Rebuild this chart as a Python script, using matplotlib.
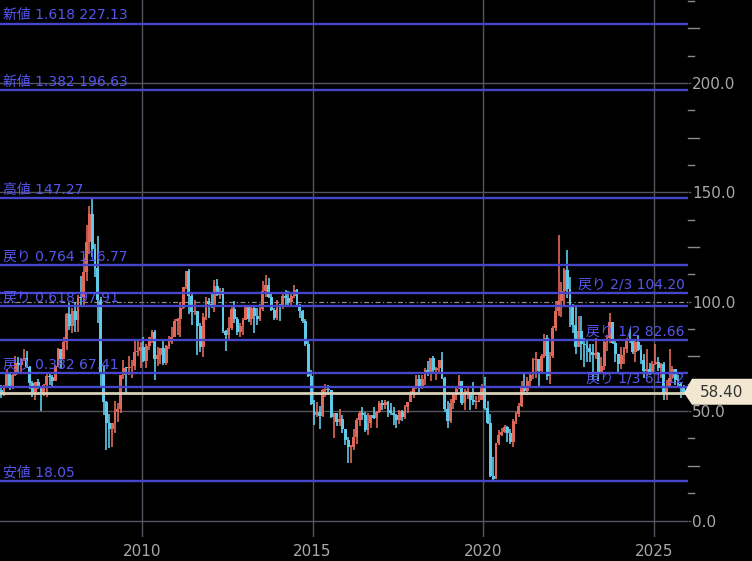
import matplotlib
matplotlib.use('Agg')
import matplotlib.pyplot as plt
import numpy as np
from matplotlib.patches import Polygon
from matplotlib.transforms import blended_transform_factory

plt.rcParams['font.family'] = ['DejaVu Sans', 'Noto Sans CJK JP']

# ---------------- data (monthly candles, first = Nov 2005) ----------------
start_year, start_month = 2005, 11

opens = [
    59.8, 57.3,
    61.0, 67.9, 61.4, 66.6, 71.9, 71.3, 74.0, 74.4, 70.3, 62.9, 58.7, 63.1,
    61.1, 58.1, 61.8, 65.9, 65.7, 64.0, 70.7, 78.2, 74.0, 81.7, 94.5, 88.7,
    96.0, 91.8, 101.8, 101.6, 113.5, 127.4, 140.0, 124.1, 115.5, 100.6, 67.8, 54.4,
    44.6, 41.7, 44.8, 49.7, 51.1, 66.3, 69.9, 69.5, 70.0, 70.6, 77.0, 77.3,
    79.4, 72.9, 79.7, 83.8, 86.2, 74.0, 75.6, 78.9, 71.9, 80.0, 81.4, 84.1,
    91.4, 92.2, 97.0, 106.7, 113.9, 102.7, 95.4, 95.7, 88.8, 79.2, 93.2, 100.4,
    98.8, 98.5, 107.1, 103.0, 104.9, 86.5, 85.0, 88.1, 96.5, 92.2, 86.2, 88.9,
    91.8, 97.5, 92.1, 97.2, 93.5, 92.0, 96.6, 105.0, 107.7, 102.3, 96.4, 92.7,
    98.4, 97.5, 102.6, 101.6, 99.7, 102.7, 105.4, 98.2, 96.0, 91.2, 80.5, 66.2,
    53.3, 48.2, 49.8, 47.6, 59.6, 60.3, 59.5, 47.1, 49.2, 45.1, 46.6, 41.7,
    37.0, 33.6, 33.8, 38.3, 45.9, 49.1, 48.3, 41.6, 44.7, 48.2, 46.9, 49.4,
    53.7, 52.8, 54.0, 50.6, 49.3, 48.3, 46.0, 50.2, 47.2, 51.7, 54.4, 57.4,
    60.4, 64.7, 61.6, 64.9, 68.6, 67.0, 74.2, 68.8, 69.8, 73.3, 65.3, 50.9,
    45.4, 53.8, 57.2, 60.1, 63.9, 53.5, 58.5, 58.6, 55.1, 54.1, 54.2, 55.2,
    61.1, 51.6, 44.8, 20.5, 19.2, 35.5, 39.3, 40.3, 42.6, 40.2, 35.8, 45.3,
    48.5, 52.2, 61.5, 59.2, 63.6, 66.3, 73.5, 73.95, 68.5, 75.0, 83.6, 66.2,
    75.2, 88.2, 95.7, 100.3, 104.7, 114.7, 105.8, 98.6, 89.6, 79.5, 86.5, 80.6,
    80.3, 78.9, 77.1, 75.7, 76.8, 68.1, 70.6, 81.8, 83.6, 90.8, 81.0, 76.0,
    71.65, 75.85, 78.26, 83.17, 81.93, 76.99, 81.54, 77.91, 73.55, 68.17, 69.26, 68.0,
    71.72, 72.53, 69.76, 71.48, 58.21, 60.79, 65.11, 69.26, 64.01, 62.37, 60.98,
]

highs = [
    62.1, 61.9,
    69.2, 68.0, 67.4, 75.4, 74.9, 74.2, 78.4, 77.3, 70.8, 63.6, 63.2, 64.5,
    61.1, 62.3, 68.1, 67.0, 66.5, 70.9, 78.8, 78.3, 83.9, 94.8, 99.3, 97.0,
    100.1, 103.1, 111.8, 119.9, 135.1, 143.7, 147.27, 126.4, 130.0, 102.4, 71.2, 54.6,
    48.6, 43.0, 54.7, 53.9, 66.7, 73.4, 70.4, 75.0, 73.4, 82.0, 82.0, 81.4,
    83.9, 80.5, 83.8, 87.1, 87.2, 79.3, 79.0, 83.0, 80.1, 84.4, 88.6, 92.0,
    92.6, 99.8, 106.9, 113.9, 114.8, 103.4, 100.6, 95.9, 90.5, 94.7, 102.4, 101.8,
    103.7, 109.8, 110.6, 106.2, 106.4, 87.1, 92.9, 98.3, 100.4, 93.0, 90.3, 92.4,
    98.2, 98.2, 97.8, 97.8, 97.0, 99.2, 109.3, 112.2, 110.7, 104.4, 97.0, 100.8,
    98.8, 104.0, 105.2, 104.9, 104.5, 107.7, 105.8, 98.8, 96.4, 92.3, 82.2, 69.0,
    55.1, 54.2, 52.5, 59.9, 62.6, 61.8, 59.7, 49.3, 49.3, 50.9, 48.4, 42.0,
    38.4, 34.7, 41.9, 46.8, 50.2, 51.7, 49.4, 49.0, 48.4, 51.9, 49.9, 54.5,
    55.2, 54.9, 54.6, 53.8, 52.0, 48.9, 50.4, 50.4, 52.9, 54.4, 59.1, 60.5,
    66.7, 66.7, 66.6, 69.6, 72.9, 74.5, 75.3, 70.4, 73.4, 76.9, 65.4, 54.6,
    55.4, 57.8, 60.7, 66.6, 64.0, 59.9, 60.9, 58.8, 63.4, 56.9, 58.7, 62.3,
    65.7, 54.7, 48.7, 29.1, 35.6, 41.6, 42.5, 43.8, 43.4, 41.9, 46.3, 49.4,
    53.9, 63.8, 67.98, 65.5, 67.0, 74.5, 76.98, 74.0, 76.0, 85.4, 84.97, 76.9,
    88.8, 100.5, 130.5, 109.2, 115.5, 123.7, 111.1, 99.0, 97.7, 93.6, 93.7, 83.3,
    82.7, 80.6, 80.9, 83.5, 76.9, 74.8, 82.0, 84.9, 95.0, 90.8, 82.0, 76.2,
    79.3, 79.1, 83.3, 87.7, 82.2, 82.4, 84.5, 80.2, 76.0, 78.5, 72.0, 72.7,
    80.8, 74.8, 71.8, 72.3, 64.2, 78.4, 70.5, 69.4, 66.4, 63.0, 62.0,
]

lows = [
    56.0, 56.9,
    61.0, 59.5, 59.9, 66.1, 68.0, 68.1, 72.7, 69.8, 60.3, 56.5, 55.3, 60.0,
    49.9, 56.8, 56.6, 61.9, 60.6, 64.0, 70.3, 69.1, 73.9, 77.8, 87.0, 85.9,
    86.1, 86.1, 98.7, 98.7, 109.6, 122.0, 120.4, 111.3, 90.5, 61.3, 48.3, 32.4,
    33.2, 33.6, 40.2, 45.2, 49.0, 64.9, 58.3, 66.6, 65.1, 69.0, 75.2, 69.5,
    72.4, 69.5, 78.0, 81.0, 64.2, 70.7, 71.5, 71.0, 71.0, 78.6, 80.8, 84.0,
    84.9, 84.1, 96.8, 105.7, 94.6, 89.6, 94.0, 75.7, 77.1, 74.95, 91.7, 92.5,
    97.1, 95.4, 102.5, 101.3, 85.6, 77.3, 82.1, 87.3, 90.5, 84.7, 84.1, 84.6,
    91.7, 90.8, 89.3, 85.6, 89.5, 91.0, 95.9, 102.2, 101.6, 95.7, 91.8, 91.8,
    91.2, 96.7, 97.4, 98.0, 98.3, 101.6, 97.7, 92.5, 90.4, 79.8, 65.7, 52.7,
    43.6, 47.4, 42.0, 47.1, 56.5, 57.4, 47.0, 37.8, 43.2, 43.0, 39.9, 34.5,
    26.2, 26.1, 32.3, 35.2, 43.0, 45.8, 40.6, 39.2, 42.5, 46.2, 42.2, 49.3,
    50.7, 51.2, 47.1, 48.2, 43.8, 42.1, 44.1, 45.6, 46.5, 49.1, 54.2, 55.8,
    59.9, 58.1, 59.9, 62.0, 66.0, 63.6, 67.0, 64.4, 67.5, 64.9, 49.4, 42.4,
    44.4, 51.2, 55.0, 60.1, 53.0, 50.6, 55.4, 50.5, 52.8, 50.9, 54.0, 55.0,
    50.6, 44.0, 20.1, 18.05, 19.0, 34.4, 38.7, 40.1, 36.1, 34.9, 33.6, 44.2,
    47.2, 51.7, 57.3, 57.6, 61.6, 64.6, 65.0, 61.7, 67.6, 74.2, 64.4, 62.4,
    74.3, 86.6, 93.5, 92.9, 98.2, 101.5, 88.3, 85.7, 76.3, 79.3, 73.6, 70.1,
    72.5, 72.3, 64.1, 74.0, 63.6, 66.8, 69.0, 77.6, 81.2, 80.6, 72.4, 67.7,
    69.3, 71.4, 76.6, 81.2, 76.0, 72.5, 77.4, 71.5, 65.3, 66.0, 66.5, 67.0,
    71.0, 68.3, 65.2, 55.1, 55.3, 60.5, 64.7, 61.9, 61.5, 55.96, 57.2,
]

closes = [
    57.3, 61.0,
    67.9, 61.4, 66.6, 71.9, 71.3, 74.0, 74.4, 70.3, 62.9, 58.7, 63.1, 61.1,
    58.1, 61.8, 65.9, 65.7, 64.0, 70.7, 78.2, 74.0, 81.7, 94.5, 88.7, 96.0,
    91.8, 101.8, 101.6, 113.5, 127.4, 140.0, 124.1, 115.5, 100.6, 67.8, 54.4, 44.6,
    41.7, 44.8, 49.7, 51.1, 66.3, 69.9, 69.5, 70.0, 70.6, 77.0, 77.3, 79.4,
    72.9, 79.7, 83.8, 86.2, 74.0, 75.6, 78.9, 71.9, 80.0, 81.4, 84.1, 91.4,
    92.2, 97.0, 106.7, 113.9, 102.7, 95.4, 95.7, 88.8, 79.2, 93.2, 100.4, 98.8,
    98.5, 107.1, 103.0, 104.9, 86.5, 85.0, 88.1, 96.5, 92.2, 86.2, 88.9, 91.8,
    97.5, 92.1, 97.2, 93.5, 92.0, 96.6, 105.0, 107.7, 102.3, 96.4, 92.7, 98.4,
    97.5, 102.6, 101.6, 99.7, 102.7, 105.4, 98.2, 96.0, 91.2, 80.5, 66.2, 53.3,
    48.2, 49.8, 47.6, 59.6, 60.3, 59.5, 47.1, 49.2, 45.1, 46.6, 41.7, 37.0,
    33.6, 33.8, 38.3, 45.9, 49.1, 48.3, 41.6, 44.7, 48.2, 46.9, 49.4, 53.7,
    52.8, 54.0, 50.6, 49.3, 48.3, 46.0, 50.2, 47.2, 51.7, 54.4, 57.4, 60.4,
    64.7, 61.6, 64.9, 68.6, 67.0, 74.2, 68.8, 69.8, 73.3, 65.3, 50.9, 45.4,
    53.8, 57.2, 60.1, 63.9, 53.5, 58.5, 58.6, 55.1, 54.1, 54.2, 55.2, 61.1,
    51.6, 44.8, 20.5, 18.8, 35.5, 39.3, 40.3, 42.6, 40.2, 35.8, 45.3, 48.5,
    52.2, 61.5, 59.2, 63.6, 66.3, 73.5, 73.95, 68.5, 75.0, 83.6, 66.2, 75.2,
    88.2, 95.7, 100.3, 104.7, 114.7, 105.8, 98.6, 89.6, 79.5, 86.5, 80.6, 80.3,
    78.9, 77.1, 75.7, 76.8, 68.1, 70.6, 81.8, 83.6, 90.8, 81.0, 76.0, 71.65,
    75.85, 78.26, 83.17, 81.93, 76.99, 81.54, 77.91, 73.55, 68.17, 69.26, 68.0, 71.72,
    72.53, 69.76, 71.48, 58.21, 60.79, 65.11, 69.26, 64.01, 62.37, 60.98, 58.40,
]

fib_left_labels = ['新値 1.618 227.13', '新値 1.382 196.63', '高値 147.27',
                   '戻り 0.764 116.77', '戻り 0.618 97.91', '戻り 0.382 67.41',
                   '安値 18.05']
fib_left_values = [227.13, 196.63, 147.27, 116.77, 97.91, 67.41, 18.05]
fib_right_labels = ['戻り 2/3 104.20', '戻り 1/2 82.66', '戻り 1/3 61.12']
fib_right_values = [104.20, 82.66, 61.12]
last_price = 58.40
x_ticks = [2010, 2015, 2020, 2025]
y_ticks = [0, 50, 100, 150, 200]

# ---------------- styling ----------------
BG = '#000000'
UP = '#e0685a'
DOWN = '#60c9ea'
FIB_LINE = '#4646cc'
FIB_TEXT = '#5656ee'
GRID = '#55555f'
TICK_TXT = '#a8a8a8'

W, H = 752, 561
fig = plt.figure(figsize=(W / 100, H / 100), dpi=100, facecolor=BG)
ax = fig.add_axes([0, 24 / H, 688 / W, 537 / H])
ax.set_facecolor(BG)
ax.set_xlim(2005.84, 2026.0)
ax.set_ylim(-7.54, 237.94)
for s in ax.spines.values():
    s.set_visible(False)

# grid
for v in y_ticks:
    if v == 100:
        ax.axhline(v, color='#8a8a8a', lw=0.9, ls=(0, (1, 2, 4, 2)), zorder=1)
    else:
        ax.axhline(v, color=GRID, lw=1.0, zorder=1)
for v in x_ticks:
    ax.axvline(v, color=GRID, lw=1.0, zorder=1)

# candles
n = len(closes)
o = np.array(opens); h = np.array(highs); l = np.array(lows); c = np.array(closes)
x = start_year + (start_month - 1 + np.arange(n)) / 12 + 1 / 24
up = c >= o
cols = np.where(up, UP, DOWN)
ax.vlines(x, l, h, colors=cols, lw=1.2, zorder=2)
body_bottom = np.minimum(o, c)
body_h = np.maximum(np.abs(c - o), 0.5)
ax.bar(x, body_h, bottom=body_bottom, width=1.0 / 12, color=cols,
       edgecolor='none', zorder=2.5)

# fibonacci levels
tr = blended_transform_factory(ax.transAxes, ax.transData)
for lab, v in zip(fib_left_labels, fib_left_values):
    ax.axhline(v, color=FIB_LINE, lw=1.7, zorder=3)
    ax.text(3 / 688, v + 0.6, lab, transform=tr, color=FIB_TEXT, fontsize=10,
            ha='left', va='bottom', zorder=5)
for lab, v in zip(fib_right_labels, fib_right_values):
    ax.axhline(v, color=FIB_LINE, lw=1.7, zorder=3)
    ax.text(685 / 688, v + 0.6, lab, transform=tr, color=FIB_TEXT, fontsize=10,
            ha='right', va='bottom', zorder=5)

# last price line
ax.axhline(last_price, color='#d8d0b8', lw=2.0, zorder=4)

# axes ticks
ax.set_xticks(x_ticks)
ax.set_xticklabels([str(t) for t in x_ticks])
ax.yaxis.tick_right()
ax.set_yticks(y_ticks)
ax.set_yticklabels([f'{t:.1f}' for t in y_ticks])
ax.tick_params(axis='x', length=0, pad=5, labelsize=11, labelcolor=TICK_TXT)
ax.tick_params(axis='y', length=2, width=1, color=GRID, pad=1, labelsize=11,
               labelcolor=TICK_TXT)

# minor ticks on right side
for v in np.arange(12.5, 237.9, 12.5):
    if v % 50 == 0:
        continue
    ln = 11 if v % 25 == 0 else 6
    ax.plot([1.0, 1.0 + ln / 688], [v, v], transform=tr, color='#8a8a8a',
            lw=1.0, clip_on=False, zorder=1)

# last price tag
fig.canvas.draw()
tip = fig.transFigure.inverted().transform(ax.transData.transform((2010, last_price)))[1]
pts = [(684 / W, tip), (692 / W, tip + 14 / H), (752 / W, tip + 14 / H),
       (752 / W, tip - 12 / H), (692 / W, tip - 12 / H)]
fig.patches.append(Polygon(pts, closed=True, transform=fig.transFigure,
                           facecolor='#f2e8d2', edgecolor='none', zorder=10))
fig.text(722 / W, tip + 0.5 / H, f'{last_price:.2f}', color='#333333', fontsize=11,
         ha='center', va='center', zorder=11)

fig.savefig('out.png', dpi=100, facecolor=BG)
